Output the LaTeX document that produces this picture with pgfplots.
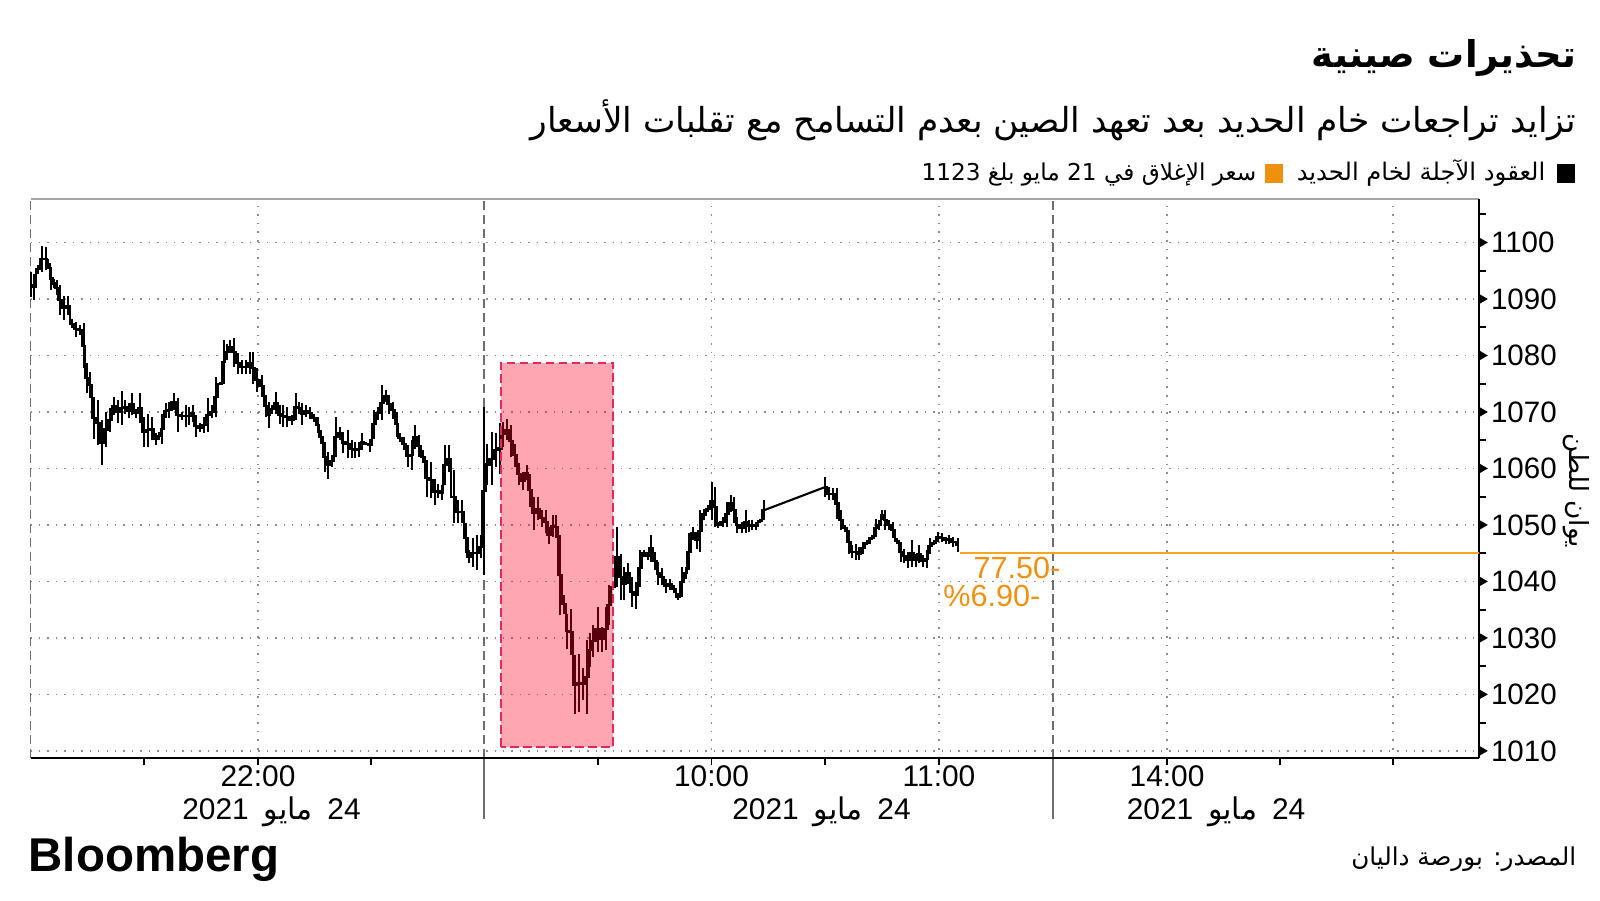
\documentclass[border=0pt]{standalone}
\usepackage{pgfplots}
\pgfplotsset{compat=1.18}
\usepackage{pgfplotstable}
\usepackage{fontspec}
\setmainfont{Liberation Sans}
\newfontfamily\arabicfont[Script=Arabic]{DejaVu Sans}
\TeXXeTstate=1

\definecolor{orng}{HTML}{F0900F}
\definecolor{orngline}{HTML}{F5A623}
\definecolor{pinkfill}{HTML}{FF0026}
\definecolor{pinkedge}{HTML}{E5285A}
\definecolor{gridgray}{HTML}{8C8C8C}
\definecolor{sepgray}{HTML}{6E6E6E}

% iron ore futures bars: x position, high, low
\pgfplotstableread{
x h l
31.0 1094.7 1090.4
34.3 1094.5 1089.8
37.7 1096.1 1094.5
41.7 1099.4 1094.7
45.7 1099.2 1095.1
48.3 1097.1 1095.4
51.0 1095.7 1091.6
54.3 1093.6 1091.9
56.7 1093.3 1090.7
60.0 1092.5 1087.1
64.0 1090.6 1086.3
67.7 1090.6 1087.1
71.7 1086.5 1084.8
75.7 1086.0 1083.3
80.0 1085.4 1083.6
84.0 1085.7 1077.7
86.7 1078.6 1073.3
90.0 1077.1 1072.4
94.0 1072.7 1065.3
97.7 1072.1 1064.1
101.7 1068.6 1060.6
105.7 1070.0 1063.8
110.0 1070.7 1066.5
114.0 1072.7 1069.4
118.0 1072.1 1068.0
121.7 1073.7 1067.7
125.0 1072.1 1069.7
129.0 1071.5 1068.9
132.3 1073.3 1069.4
136.0 1070.6 1068.9
140.0 1073.3 1068.0
144.0 1069.1 1063.8
147.7 1069.7 1063.8
151.7 1069.1 1065.0
155.7 1066.2 1064.1
159.3 1066.5 1065.0
162.3 1069.7 1064.4
165.7 1071.5 1068.9
169.3 1071.8 1068.9
173.7 1073.3 1070.3
177.7 1072.4 1066.5
181.7 1070.0 1068.6
185.7 1071.2 1067.4
189.3 1070.9 1067.7
192.7 1071.2 1068.3
196.0 1069.4 1065.6
200.0 1068.0 1066.5
204.0 1069.1 1066.2
207.7 1072.4 1066.5
211.7 1071.2 1068.9
215.7 1076.2 1069.1
219.7 1075.3 1074.7
223.7 1082.7 1075.0
227.0 1082.1 1079.2
230.3 1082.7 1080.4
234.0 1083.1 1078.0
237.7 1080.4 1076.8
241.7 1079.2 1076.8
245.7 1079.2 1076.8
250.0 1080.6 1076.8
253.3 1080.6 1075.0
257.3 1077.7 1073.6
261.7 1076.5 1072.7
265.7 1073.0 1069.1
269.0 1071.8 1067.1
271.7 1071.2 1069.7
275.7 1073.6 1069.7
280.0 1071.2 1067.9
283.3 1071.2 1067.4
287.3 1070.9 1067.4
291.7 1069.4 1067.7
295.7 1073.3 1068.6
299.3 1071.8 1069.7
302.3 1071.5 1067.7
306.0 1071.2 1069.1
310.0 1070.9 1068.8
314.3 1069.7 1068.3
317.7 1069.1 1066.2
321.0 1066.8 1064.4
325.0 1064.7 1059.4
328.3 1063.0 1058.2
332.3 1062.4 1060.3
336.0 1069.1 1062.1
340.0 1067.4 1065.0
343.3 1066.5 1062.7
347.7 1066.8 1061.8
351.7 1065.0 1061.8
355.0 1064.7 1061.8
359.0 1064.7 1062.1
362.3 1066.2 1063.2
366.0 1064.7 1064.1
370.0 1065.3 1063.0
374.0 1070.3 1065.3
378.3 1070.9 1068.6
381.7 1074.7 1068.6
385.7 1073.9 1071.8
389.3 1073.0 1069.7
392.7 1071.8 1068.8
396.7 1070.0 1065.6
400.0 1066.2 1064.7
404.0 1065.6 1063.2
407.7 1064.1 1060.3
411.7 1065.0 1059.7
415.0 1067.7 1063.5
419.0 1065.9 1062.1
423.3 1063.2 1060.9
427.3 1061.5 1055.0
431.0 1061.2 1054.7
435.0 1058.2 1053.5
438.3 1057.3 1054.7
441.7 1057.0 1054.4
445.0 1064.1 1057.0
449.0 1064.1 1059.4
453.7 1059.7 1050.3
457.7 1054.4 1050.3
461.7 1054.4 1050.3
465.7 1050.3 1045.0
469.3 1045.5 1043.2
473.3 1047.6 1042.6
477.3 1048.2 1042.0
480.7 1048.2 1044.1
484.0 1070.8 1041.1
487.3 1064.4 1057.0
491.7 1066.5 1057.0
495.7 1066.2 1060.3
500.0 1068.0 1059.1
503.3 1068.3 1063.8
507.3 1068.7 1065.0
510.7 1067.7 1062.1
515.0 1064.4 1060.3
519.0 1060.9 1057.0
522.7 1059.4 1056.1
526.7 1060.6 1057.9
530.0 1059.1 1053.2
534.0 1055.0 1049.1
537.7 1055.0 1050.8
541.7 1052.6 1049.7
545.7 1052.6 1048.5
549.3 1049.7 1046.7
552.7 1051.7 1047.9
556.0 1051.7 1047.6
560.0 1048.2 1034.0
564.0 1037.6 1034.3
567.3 1034.3 1028.1
571.3 1035.2 1026.9
575.3 1026.9 1016.6
579.3 1027.2 1016.9
583.3 1024.6 1019.0
587.0 1029.6 1016.6
590.0 1030.8 1024.9
593.3 1032.3 1026.7
597.7 1035.5 1027.5
601.7 1032.0 1027.5
605.7 1035.5 1027.8
609.3 1039.3 1032.3
613.3 1039.3 1038.7
617.3 1049.7 1039.1
620.7 1044.9 1036.7
624.0 1042.6 1036.7
627.7 1043.2 1039.6
631.7 1040.8 1035.5
635.7 1039.9 1035.2
640.0 1045.5 1039.1
644.0 1045.5 1044.4
647.7 1045.2 1043.8
651.3 1048.2 1043.5
655.0 1045.2 1042.0
658.3 1043.5 1039.3
662.3 1042.3 1039.3
666.0 1040.5 1037.9
670.0 1040.5 1038.5
674.0 1039.3 1037.9
678.3 1037.9 1036.7
681.7 1042.6 1037.3
685.7 1042.6 1040.5
689.0 1048.5 1042.0
693.0 1049.7 1047.3
696.7 1048.8 1045.8
700.0 1052.6 1045.2
704.0 1052.9 1050.8
708.3 1053.5 1052.3
711.7 1057.6 1050.8
715.0 1056.7 1049.7
718.3 1050.6 1049.4
722.7 1051.4 1049.7
726.7 1054.1 1049.7
730.7 1055.3 1052.3
734.0 1055.0 1050.3
737.3 1051.4 1048.5
741.7 1050.6 1048.5
745.7 1052.6 1048.5
749.0 1050.8 1048.8
752.3 1050.8 1049.1
756.0 1050.6 1049.1
760.0 1051.1 1050.3
764.0 1054.4 1050.8
795.0 nan nan
825.0 1058.5 1055.0
829.0 1056.7 1054.4
832.7 1056.5 1054.4
836.7 1056.5 1051.1
840.7 1052.6 1049.1
845.0 1050.0 1048.8
849.0 1049.1 1044.9
852.3 1046.4 1044.1
856.0 1046.7 1043.8
859.3 1046.1 1043.8
863.3 1047.0 1044.9
867.3 1047.3 1046.4
871.7 1048.2 1047.3
875.7 1051.1 1047.9
879.0 1050.8 1049.1
882.3 1052.6 1050.8
885.0 1052.6 1049.1
889.0 1050.8 1049.1
892.7 1050.6 1047.6
896.7 1047.6 1046.7
900.7 1047.0 1043.5
904.3 1045.8 1043.2
908.3 1045.2 1042.3
911.7 1047.3 1042.6
915.7 1044.9 1042.6
919.3 1046.4 1043.2
923.3 1044.7 1042.6
926.7 1045.5 1042.3
930.0 1047.6 1044.9
934.0 1047.3 1046.4
938.3 1048.8 1047.0
941.7 1048.5 1047.0
946.0 1047.9 1046.7
949.0 1048.2 1046.7
953.3 1047.9 1046.1
957.8 1047.6 1045.2
}\bars

\begin{document}
\begin{tikzpicture}[x=1cm,y=1cm]
\useasboundingbox (0,0) rectangle (16,9);
\fill[white] (0,0) rectangle (16,9);

\begin{axis}[
  at={(0.306cm,1.418cm)}, anchor=south west,
  scale only axis, width=14.48cm, height=5.592cm,
  xmin=30.6, xmax=1478.6, ymin=1008.7, ymax=1107.7,
  clip=false,
  axis line style={draw=none},
  xtick pos=bottom, ytick pos=right, yticklabel pos=right,
  tick align=outside,
  xtick={144,258,371,484,598,711.5,825,939,1053,1167,1280,1393},
  xticklabels={,22:00,,,,10:00,,11:00,,14:00,,},
  ytick={1010,1020,...,1100},
  minor ytick={1005,1015,...,1105},
  major tick length=0.07cm, minor tick length=0.07cm,
  tick style={black, line width=0.5pt},
  ymajorgrids,
  grid style={gridgray, dotted, line width=0.45pt},
  /pgf/number format/assume math mode=true,
  /pgf/number format/set thousands separator={},
  yticklabel style={font=\fontsize{8.4}{10}\selectfont, xshift=-0.07cm},
  xticklabel style={font=\fontsize{8.5}{10}\selectfont, yshift=0.12cm},
]
% vertical grid lines
\foreach \gx in {258,711.5,939,1167,1393}{
  \edef\tmp{\noexpand\draw[gridgray, dotted, line width=0.45pt] (axis cs:\gx,1008.7) -- (axis cs:\gx,1107.7);}\tmp
}
% session separators
\draw[sepgray, dash pattern=on 2.6pt off 1.4pt, line width=0.45pt] (axis cs:484,1008.7) -- (axis cs:484,1107.7);
\draw[sepgray, dash pattern=on 2.6pt off 1.4pt, line width=0.45pt] (axis cs:1053,1008.7) -- (axis cs:1053,1107.7);
\draw[sepgray, line width=0.45pt] (axis cs:484,997.9) -- (axis cs:484,1008.7);
\draw[sepgray, line width=0.45pt] (axis cs:1053,997.9) -- (axis cs:1053,1008.7);
% frame
\draw[gray!70, line width=0.5pt] (axis cs:30.6,1107.7) -- (axis cs:1478.6,1107.7);
\draw[sepgray, dash pattern=on 2.6pt off 1.4pt, line width=0.5pt] (axis cs:30.6,1008.7) -- (axis cs:30.6,1107.7);
\draw[black, line width=0.6pt] (axis cs:30.6,1008.7) -- (axis cs:1478.6,1008.7);
\draw[black, line width=0.6pt] (axis cs:1478.6,1008.7) -- (axis cs:1478.6,1107.7);

% close on 21 May reference line
\addplot[orngline, line width=0.4pt, mark=none] coordinates {(960,1045.06) (1478.6,1045.06)};

% high-low bars
\addplot[draw=none, mark=none,
  error bars/.cd, y dir=plus, y explicit, error mark=none,
  error bar style={draw=black, solid, line width=0.6pt}]
  table[x=x, y=l, y error expr=\thisrow{h}-\thisrow{l}] {\bars};
% open/close steps
\addplot[black, line width=0.6pt, mark=none, const plot mark mid, unbounded coords=jump]
  table[x=x, y expr=(\thisrow{h}+\thisrow{l})/2] {\bars};
% lunch break link
\addplot[black, line width=0.6pt, mark=none] coordinates {(764,1052.6) (825,1056.7)};

% highlighted sell-off
\fill[pinkfill, fill opacity=0.35] (axis cs:500.7,1010.7) rectangle (axis cs:613.3,1078.7);
\draw[pinkedge, dash pattern=on 2.4pt off 1.3pt, line width=0.6pt] (axis cs:500.7,1010.7) rectangle (axis cs:613.3,1078.7);

% major tick triangles
\addplot[only marks, mark=triangle*, mark size=1.4pt, mark options={rotate=-90, fill=black, draw=black}]
  coordinates {(1481.5,1010) (1481.5,1020) (1481.5,1030) (1481.5,1040) (1481.5,1050)
               (1481.5,1060) (1481.5,1070) (1481.5,1080) (1481.5,1090) (1481.5,1100)};

\node[orng, anchor=east, inner sep=0pt, font=\fontsize{8.7}{10}\selectfont] at (axis cs:1061,1042.4) {77.50-};
\node[orng, anchor=east, inner sep=0pt, font=\fontsize{8.7}{10}\selectfont] at (axis cs:1041,1037.4) {\%6.90-};
\end{axis}

% titles and notes
\node[anchor=east, inner sep=0pt] at (15.77,8.42)
  {\fontsize{10.5}{13}\selectfont\arabicfont\bfseries\beginR تحذيرات صينية\endR};
\node[anchor=east, inner sep=0pt] at (15.77,7.80)
  {\fontsize{9.8}{12}\selectfont\arabicfont\beginR تزايد تراجعات خام الحديد بعد تعهد الصين بعدم التسامح مع تقلبات الأسعار\endR};
% legend
\fill[black] (15.565,7.173) rectangle (15.749,7.357);
\node[anchor=base east, inner sep=0pt] at (15.46,7.19)
  {\fontsize{6.9}{8}\selectfont\arabicfont\beginR العقود الآجلة لخام الحديد\endR};
\fill[orng] (12.65,7.173) rectangle (12.834,7.357);
\node[anchor=base east, inner sep=0pt] at (12.57,7.19)
  {\fontsize{6.6}{8}\selectfont\arabicfont\beginR سعر الإغلاق في 21 مايو بلغ 1123\endR};
\node[rotate=-90, inner sep=0pt] at (15.76,4.09)
  {\fontsize{7.5}{9}\selectfont\arabicfont\beginR يوان للطن\endR};

% date row
\foreach \dx in {2.715,8.215,12.16}{
  \node[inner sep=0pt, font=\fontsize{8.5}{10}\selectfont] at (\dx,0.88)
    {2021\enspace{\arabicfont\beginR مايو\endR}\enspace 24};
}

\node[anchor=base west, inner sep=0pt] at (0.28,0.285)
  {\fontsize{13.5}{16}\selectfont\bfseries Bloomberg};
\node[anchor=base east, inner sep=0pt] at (15.77,0.35)
  {\fontsize{7}{9}\selectfont\arabicfont\beginR المصدر: بورصة داليان\endR};
\end{tikzpicture}
\end{document}
